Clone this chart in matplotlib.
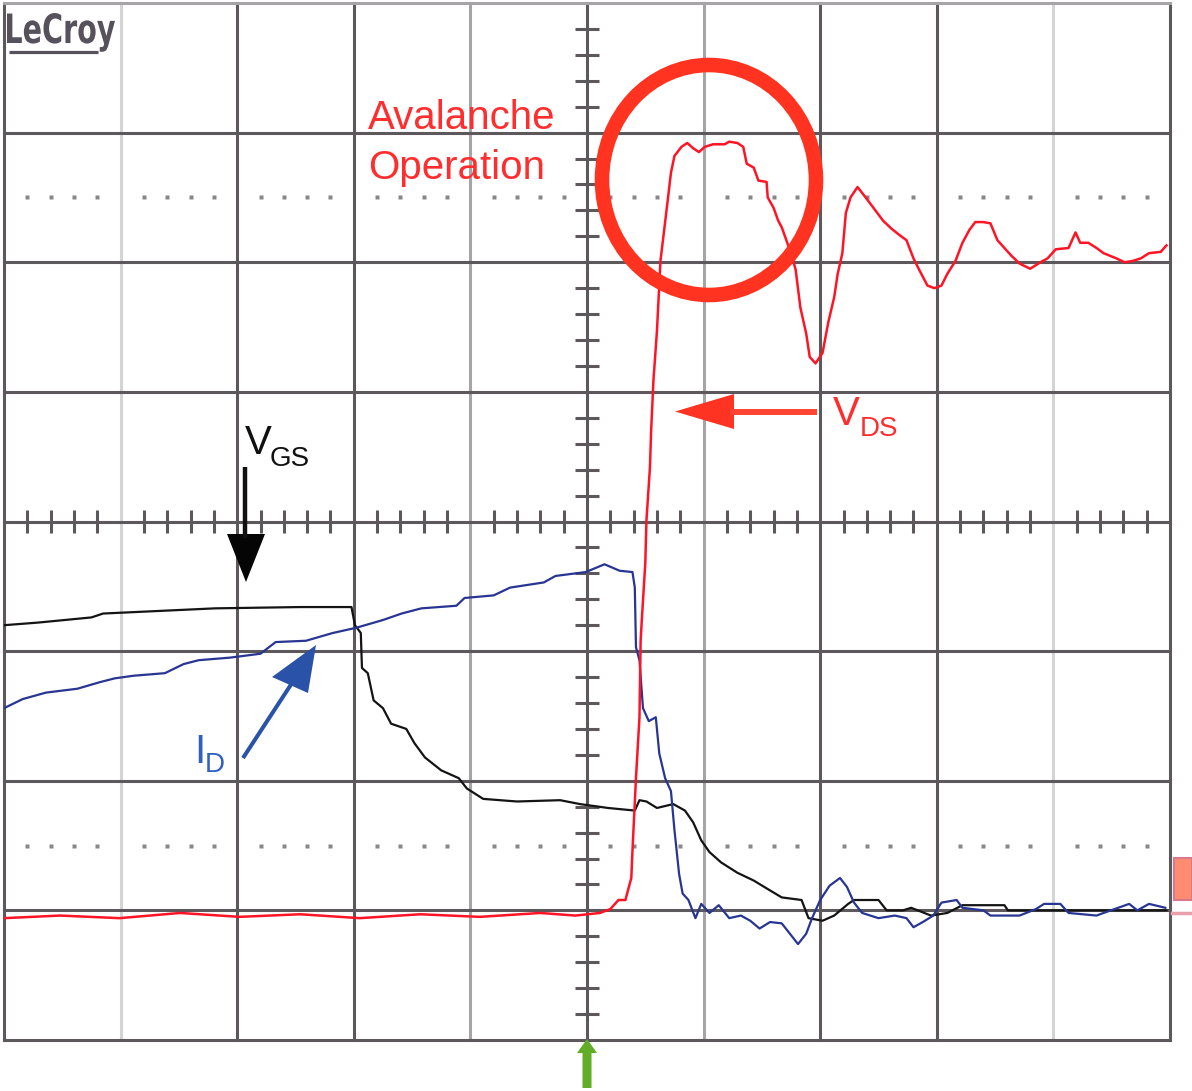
import matplotlib.pyplot as plt
from matplotlib.patches import Ellipse, Polygon, Rectangle, PathPatch
from matplotlib.textpath import TextPath
from matplotlib.font_manager import FontProperties
from matplotlib.transforms import Affine2D

# scope traces, in divisions
# x = time from trigger (div), y = level from the centre graticule line (div)
t_vds = [-5.00, -4.52, -4.01, -3.49, -2.98, -2.46, -1.95, -1.43, -0.92, -0.40,
         -0.10, 0.11, 0.20, 0.27, 0.33, 0.35, 0.38, 0.39, 0.42, 0.45,
         0.46, 0.47, 0.50, 0.51, 0.54, 0.55, 0.57, 0.60, 0.63, 0.67,
         0.69, 0.72, 0.75, 0.81, 0.86, 0.91, 0.96, 1.01, 1.08, 1.18,
         1.22, 1.29, 1.34, 1.37, 1.43, 1.47, 1.54, 1.55, 1.60, 1.64,
         1.67, 1.71, 1.76, 1.79, 1.83, 1.88, 1.91, 1.96, 2.02, 2.07,
         2.12, 2.15, 2.19, 2.22, 2.26, 2.32, 2.39, 2.44, 2.54, 2.61,
         2.68, 2.74, 2.80, 2.85, 2.92, 2.98, 3.04, 3.09, 3.16, 3.22,
         3.28, 3.33, 3.40, 3.46, 3.52, 3.58, 3.64, 3.71, 3.80, 3.89,
         3.95, 4.02, 4.13, 4.19, 4.23, 4.30, 4.37, 4.43, 4.54, 4.61,
         4.68, 4.75, 4.82, 4.92, 4.97]
vds = [-3.06, -3.04, -3.06, -3.02, -3.05, -3.03, -3.06, -3.03, -3.05, -3.02,
       -3.04, -3.02, -2.99, -2.92, -2.92, -2.85, -2.75, -2.54, -1.98, -1.51,
       -0.92, -0.76, -0.32, 0.01, 0.42, 0.70, 1.09, 1.47, 2.01, 2.31,
       2.46, 2.69, 2.82, 2.89, 2.92, 2.88, 2.85, 2.89, 2.91, 2.91,
       2.93, 2.92, 2.89, 2.76, 2.73, 2.63, 2.62, 2.50, 2.42, 2.32,
       2.27, 2.17, 2.04, 1.94, 1.65, 1.45, 1.27, 1.22, 1.30, 1.54,
       1.73, 1.91, 2.07, 2.38, 2.50, 2.58, 2.50, 2.44, 2.32, 2.26,
       2.21, 2.17, 2.03, 1.94, 1.82, 1.80, 1.82, 1.91, 2.01, 2.15,
       2.25, 2.31, 2.31, 2.30, 2.17, 2.11, 2.05, 1.99, 1.95, 2.00,
       2.03, 2.10, 2.11, 2.23, 2.15, 2.15, 2.11, 2.07, 2.03, 2.00,
       2.01, 2.03, 2.07, 2.08, 2.13]

t_id = [-5.00, -4.84, -4.64, -4.37, -4.18, -4.05, -3.89, -3.62, -3.46, -3.33,
        -3.06, -2.80, -2.67, -2.41, -2.18, -1.98, -1.75, -1.59, -1.42, -1.12,
        -1.05, -0.80, -0.66, -0.37, -0.27, -0.01, 0.15, 0.28, 0.39, 0.41,
        0.42, 0.45, 0.48, 0.53, 0.59, 0.62, 0.67, 0.72, 0.75, 0.79,
        0.82, 0.87, 0.93, 0.98, 1.05, 1.13, 1.22, 1.32, 1.40, 1.48,
        1.57, 1.67, 1.74, 1.81, 1.88, 1.93, 2.00, 2.08, 2.17, 2.23,
        2.29, 2.36, 2.50, 2.64, 2.74, 2.80, 2.88, 2.97, 3.04, 3.17,
        3.22, 3.40, 3.46, 3.71, 3.85, 3.92, 4.06, 4.13, 4.37, 4.43,
        4.65, 4.72, 4.82, 4.96]
i_d = [-1.44, -1.37, -1.32, -1.29, -1.24, -1.21, -1.19, -1.17, -1.10, -1.07,
       -1.05, -1.02, -0.93, -0.92, -0.86, -0.82, -0.76, -0.71, -0.67, -0.65,
       -0.59, -0.57, -0.51, -0.47, -0.42, -0.39, -0.33, -0.38, -0.39, -0.51,
       -0.97, -1.07, -1.44, -1.54, -1.51, -1.79, -1.98, -2.08, -2.38, -2.72,
       -2.87, -2.92, -3.06, -2.95, -3.02, -2.96, -3.06, -3.04, -3.08, -3.14,
       -3.09, -3.10, -3.18, -3.26, -3.18, -3.06, -2.92, -2.81, -2.75, -2.82,
       -2.94, -3.02, -3.06, -3.04, -3.06, -3.13, -3.09, -3.04, -2.94, -2.92,
       -2.98, -3.00, -3.04, -3.04, -2.99, -2.95, -2.95, -3.02, -3.04, -3.02,
       -2.95, -3.00, -2.95, -2.98]

t_vgs = [-5.00, -4.71, -4.25, -4.15, -3.19, -2.46, -2.02, -1.99, -1.94, -1.93,
         -1.88, -1.83, -1.75, -1.68, -1.55, -1.48, -1.39, -1.25, -1.10, -1.03,
         -0.89, -0.60, -0.23, -0.06, 0.18, 0.41, 0.45, 0.51, 0.60, 0.74,
         0.84, 0.91, 0.98, 1.05, 1.15, 1.29, 1.43, 1.54, 1.67, 1.84,
         1.90, 2.02, 2.12, 2.24, 2.29, 2.50, 2.57, 2.71, 2.78, 2.95,
         3.09, 3.22, 3.58, 3.61, 4.97]
vgs = [-0.80, -0.78, -0.74, -0.71, -0.67, -0.66, -0.66, -0.80, -0.86, -1.13,
       -1.17, -1.38, -1.44, -1.56, -1.60, -1.71, -1.82, -1.92, -1.98, -2.06,
       -2.14, -2.16, -2.15, -2.18, -2.21, -2.23, -2.15, -2.16, -2.21, -2.18,
       -2.23, -2.32, -2.46, -2.55, -2.63, -2.71, -2.77, -2.83, -2.90, -2.92,
       -3.06, -3.08, -3.04, -2.95, -2.92, -2.92, -3.00, -3.00, -2.98, -3.04,
       -3.02, -2.96, -2.96, -3.00, -3.00]

dark = '#5d585b'
mid = '#a6a4a6'
light = '#d4d4d4'
grid_x = list(range(-5, 6))
grid_x_col = [dark, light, dark, dark, mid, dark, mid, dark, dark, light, dark]
grid_y = list(range(-4, 5))
grid_y_col = [dark] * 8 + [mid]

fig = plt.figure(figsize=(11.92, 10.91), dpi=100)
ax = fig.add_axes([4 / 1192, 51 / 1091, 1166 / 1192, 1037 / 1091])
ax.set_xlim(-5, 5)
ax.set_ylim(-4, 4)
ax.axis('off')

for x, c in zip(grid_x, grid_x_col):
    ax.axvline(x, color=c, lw=2.2, zorder=1, clip_on=False)
for y, c in zip(grid_y, grid_y_col):
    ax.axhline(y, color=c, lw=2.2, zorder=1, clip_on=False)

# dotted half-division lines
fifths = [k * 0.2 for k in range(-24, 25) if k % 5]
for y in (2.5, -2.5):
    ax.plot(fifths, [y] * len(fifths), 's', ms=2.2, color='#8a878a', mec='none', zorder=1)

# minor ticks on the centre cross
ax.vlines(fifths, -0.09, 0.09, color=dark, lw=2.2, zorder=1)
yfifths = [k * 0.2 for k in range(-19, 20) if k % 5]
ax.hlines(yfifths, -0.1, 0.1, color=dark, lw=2.2, zorder=1)

ax.plot(t_vgs, vgs, color='#141414', lw=1.6, zorder=3)
ax.plot(t_id, i_d, color='#283593', lw=1.6, zorder=4)
ax.plot(t_vds, vds, color='#ff1426', lw=1.8, zorder=5)

# overlay in pixel units for the hand-drawn labels
ov = fig.add_axes([0, 0, 1, 1], zorder=5)
ov.set_xlim(0, 1192)
ov.set_ylim(1091, 0)
ov.axis('off')

fp = FontProperties(family='DejaVu Sans', weight='bold')
tp = TextPath((0, 0), 'LeCroy', size=100, prop=fp)
ext = tp.get_extents()
cap = TextPath((0, 0), 'C', size=100, prop=fp).get_extents()
sx = 108 / ext.width
sy = 30 / cap.y1
tr = Affine2D().translate(-ext.x0, 0).scale(sx, -sy).translate(7, 43)
ov.add_patch(PathPatch(tr.transform_path(tp), fc='#56515a', ec='none'))
ov.plot([9, 98], [51.5, 51.5], color='#56515a', lw=2.3, solid_capstyle='butt')

sans = 'Liberation Sans'
red_txt = '#ff2e2e'
ov.text(368, 129, 'Avalanche', fontsize=29, color=red_txt, family=sans, va='baseline')
ov.text(368, 179, 'Operation', fontsize=29, color=red_txt, family=sans, va='baseline')
ov.add_patch(Ellipse((709, 180), 214, 230, fill=False, ec='#ff3320', lw=10.5))

# V_DS arrow
ov.plot([817, 730], [411.5, 411.5], color='#ff4433', lw=4.3, solid_capstyle='butt')
ov.add_patch(Polygon([(675, 411.5), (734, 394), (734, 429)], closed=True, fc='#ff3322', ec='none'))
ov.text(833, 425, 'V', fontsize=29, color=red_txt, family=sans, va='baseline')
ov.text(860, 436, 'DS', fontsize=20, color=red_txt, family=sans, va='baseline')

# V_GS arrow
ov.plot([245, 245], [467, 538], color='#111111', lw=3.2, solid_capstyle='butt')
ov.add_patch(Polygon([(227, 534), (265, 534), (246, 582)], closed=True, fc='#050505', ec='none'))
ov.text(245, 454, 'V', fontsize=29, color='#111111', family=sans, va='baseline')
ov.text(270, 466, 'GS', fontsize=20, color='#111111', family=sans, va='baseline')

# I_D arrow
blue_a = '#2a52a8'
ov.plot([243, 292], [758, 683], color=blue_a, lw=2.9, solid_capstyle='butt')
ov.add_patch(Polygon([(316, 645), (272, 677), (308, 693)], closed=True, fc=blue_a, ec='none'))
ov.text(194, 763, 'I', fontsize=29, color='#3060c0', family=sans, va='baseline')
ov.text(205, 772, 'D', fontsize=20, color='#3060c0', family=sans, va='baseline')

# trigger marker and channel marker
ov.add_patch(Polygon([(577, 1053), (587, 1039), (597, 1053), (591.5, 1053), (591.5, 1088),
                      (582.5, 1088), (582.5, 1053)], closed=True, fc='#62ad26', ec='none'))
ov.add_patch(Rectangle((1174, 858), 18, 42, fc='#ff8c6e', ec='#d77a8e', lw=1.5))
ov.plot([1172, 1192], [913, 913], color='#e8a0aa', lw=2.5)

fig.savefig('out.png', dpi=100)
